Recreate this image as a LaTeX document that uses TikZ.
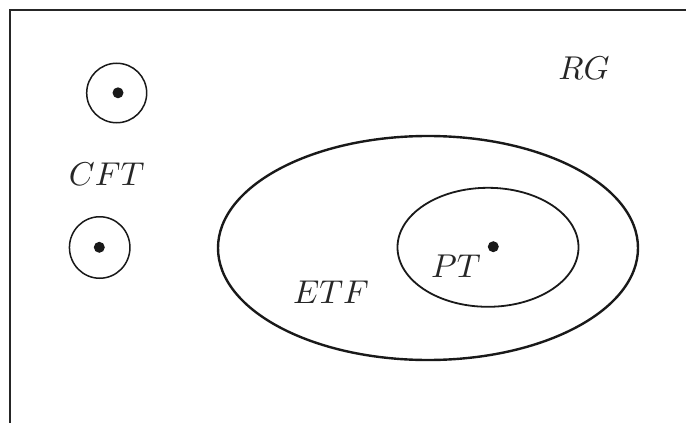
\documentclass[tikz,border=0pt]{standalone}
\usepackage{graphicx}
\usetikzlibrary{shapes.geometric}
\newcommand{\biglbl}[1]{\scalebox{3.3}{$#1$}}
\begin{document}
\begin{tikzpicture}[x=1pt,y=-1pt,
  region/.style={draw=black!90, ellipse, inner sep=0pt},
  dotmark/.style={circle, fill=black!90, inner sep=0pt, minimum size=11pt},
  lbl/.style={inner sep=0pt, text=black!85}]
\useasboundingbox (0,0) rectangle (686,423);
% frame (top and left edges visible)
\coordinate (tl) at (9.5,9.5);
\coordinate (tr) at (686,9.5);
\coordinate (bl) at (9.5,423);
\draw[line width=2pt, black!85] (tr) -- (tl) -- (bl);
% CFT circles
\node[region, line width=1.5pt, minimum width=60pt, minimum height=59.5pt] (c1) at (116.7,93) {};
\node[dotmark] (d1) at (118,92.8) {};
\node[region, line width=1.5pt, minimum width=60.5pt, minimum height=61.5pt] (c2) at (99.7,247.5) {};
\node[dotmark] (d2) at (99.3,247.3) {};
\node[lbl] (cft) at (106.7,174) {\biglbl{CFT}};
% ETF and PT
\node[region, line width=2.4pt, minimum width=420pt, minimum height=224pt] (etf) at (428,248) {};
\node[region, line width=1.8pt, minimum width=181pt, minimum height=119pt] (pt) at (488,247.3) {};
\node[dotmark] (d3) at (493.3,246.7) {};
\node[lbl] (ptl) at (456,266) {\biglbl{PT}};
\node[lbl] (etfl) at (331,292.5) {\biglbl{ETF}};
\node[lbl] (rg) at (584,68.5) {\biglbl{RG}};
\end{tikzpicture}
\end{document}
